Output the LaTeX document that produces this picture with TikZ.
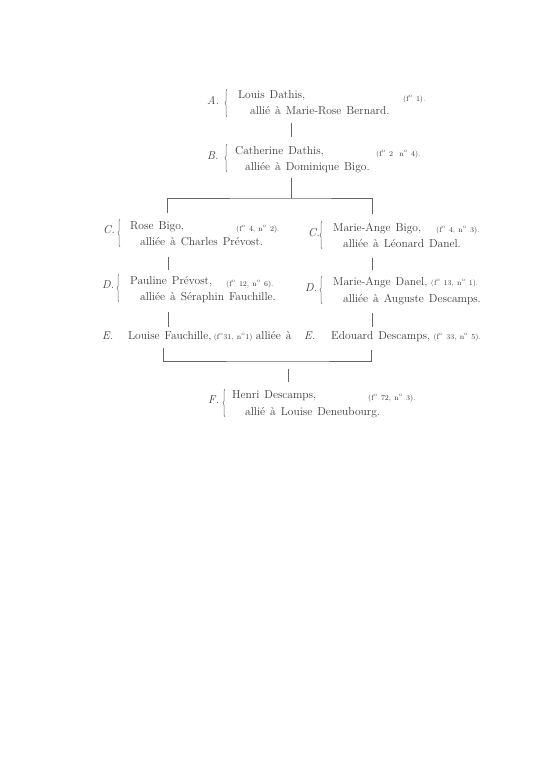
\documentclass[tikz,border=0pt]{standalone}
\usepackage{tikz}
\usepackage{xcolor}
\usetikzlibrary{decorations.pathreplacing}
\definecolor{inkc}{HTML}{3A3A3A}
\definecolor{rulec}{HTML}{666666}
\newcommand{\fol}{f\textsuperscript{o}}
\newcommand{\nro}{n\textsuperscript{o}}
\newcommand{\largesp}{\spaceskip=5pt plus 1pt\relax}
\newcommand{\petitsp}{\spaceskip=3.2pt plus 1pt\relax}
\tikzstyle{txt} = [
    anchor=base west,
    inner sep=0pt,
    text=inkc,
    font=\fontsize{11.5}{14}\selectfont\largesp
    ]
\tikzstyle{lettre} = [txt, font=\fontsize{11.5}{14}\selectfont\itshape]
\tikzstyle{cote} = [txt, font=\fontsize{7.5}{9}\selectfont\petitsp]
\tikzstyle{link} = [draw=rulec, line width=0.6pt]
\tikzstyle{accolade} = [
    draw=rulec,
    line width=0.5pt,
    decorate,
    decoration={brace, amplitude=2pt}
    ]

\begin{document}
\begin{tikzpicture}[x=1pt,y=-1pt]
\useasboundingbox[fill=white] (0,0) rectangle (540,768);

% A
\node[lettre] (lA) at (207,104) {A.};
\node[txt] (nA) at (238,99) {Louis Dathis,};
\node[cote] (fA) at (403,101) {(\fol{} 1).};
\node[txt] (aA) at (250,114) {allié à Marie-Rose Bernard.};
\draw[accolade] (227,117) -- (227,89);

% B
\node[lettre] (lB) at (207,159) {B.};
\node[txt] (nB) at (235,154) {Catherine Dathis,};
\node[cote] (fB) at (376,156) {(\fol{} 2\ \ \nro{} 4).};
\node[txt] (aB) at (245,170) {alliée à Dominique Bigo.};
\draw[accolade] (227,172) -- (227,144);

% C
\node[lettre] (lC1) at (103,233) {C.};
\node[txt] (nC1) at (130,229) {Rose Bigo,};
\node[cote] (fC1) at (236,231) {(\fol{} 4, \nro{} 2).};
\node[txt] (aC1) at (140,245) {alliée à Charles Prévost.};
\draw[accolade] (120,247) -- (120,219);

\node[lettre] (lC2) at (308,236) {C.};
\node[txt] (nC2) at (333,231) {Marie-Ange Bigo,};
\node[cote] (fC2) at (436,232) {(\fol{} 4, \nro{} 3).};
\node[txt] (aC2) at (343,247) {alliée à Léonard Danel.};
\draw[accolade] (322,249) -- (322,221);

% D
\node[lettre] (lD1) at (102,288) {D.};
\node[txt] (nD1) at (130,284) {Pauline Prévost,};
\node[cote] (fD1) at (226,286) {(\fol{} 12, \nro{} 6).};
\node[txt] (aD1) at (140,300) {alliée à Séraphin Fauchille.};
\draw[accolade] (119,302) -- (119,274);

\node[lettre] (lD2) at (305,291) {D.};
\node[txt] (nD2) at (333,285) {Marie-Ange Danel,};
\node[cote] (fD2) at ([xshift=3pt]nD2.base east) {(\fol{} 13, \nro{} 1).};
\node[txt] (aD2) at (343,302) {alliée à Auguste Descamps.};
\draw[accolade] (322,304) -- (322,276);

% E
\node[lettre] (lE1) at (102,339) {E.};
\node[txt] (nE1) at (128,339) {Louise Fauchille,};
\node[cote] (fE1) at ([xshift=2pt]nE1.base east) {(\fol{}31, \nro{}1)};
\node[txt] (aE1) at ([xshift=3pt]fE1.base east) {alliée à};
\node[lettre] (lE2) at (304,339) {E.};
\node[txt] (nE2) at (331,339) {Edouard Descamps,};
\node[cote] (fE2) at ([xshift=3pt]nE2.base east) {(\fol{} 33, \nro{} 5).};

% F
\node[lettre] (lF) at (208,403) {F.};
\node[txt] (nF) at (232,398) {Henri Descamps,};
\node[cote] (fF) at (368,400) {(\fol{} 72, \nro{} 3).};
\node[txt] (aF) at (245,415) {allié à Louise Deneubourg.};
\draw[accolade] (225,417) -- (225,389);

% traits
\coordinate (A-s) at (291,123);
\coordinate (B-n) at (291,137);
\draw[link] (A-s) -- (B-n);

\coordinate (B-s) at (291,178);
\coordinate (BC) at (291,198);
\coordinate (C1-n) at (167,213);
\coordinate (C2-n) at (372,214);
\draw[link] (B-s) -- (BC);
\draw[link] (C1-n) |- (BC) -| (C2-n);

\coordinate (C1-s) at (168,257);
\coordinate (D1-n) at (168,270);
\draw[link] (C1-s) -- (D1-n);
\coordinate (C2-s) at (372,258);
\coordinate (D2-n) at (372,270);
\draw[link] (C2-s) -- (D2-n);

\coordinate (D1-s) at (168,312);
\coordinate (E1-n) at (168,327);
\draw[link] (D1-s) -- (E1-n);
\coordinate (D2-s) at (372,313);
\coordinate (E2-n) at (372,327);
\draw[link] (D2-s) -- (E2-n);

\coordinate (E1-s) at (163,348);
\coordinate (E2-s) at (371,350);
\coordinate (EF) at (288,361);
\draw[link] (E1-s) |- (EF) -| (E2-s);
\coordinate (EF-s) at (288,369);
\coordinate (F-n) at (288,382);
\draw[link] (EF-s) -- (F-n);
\end{tikzpicture}
\end{document}
